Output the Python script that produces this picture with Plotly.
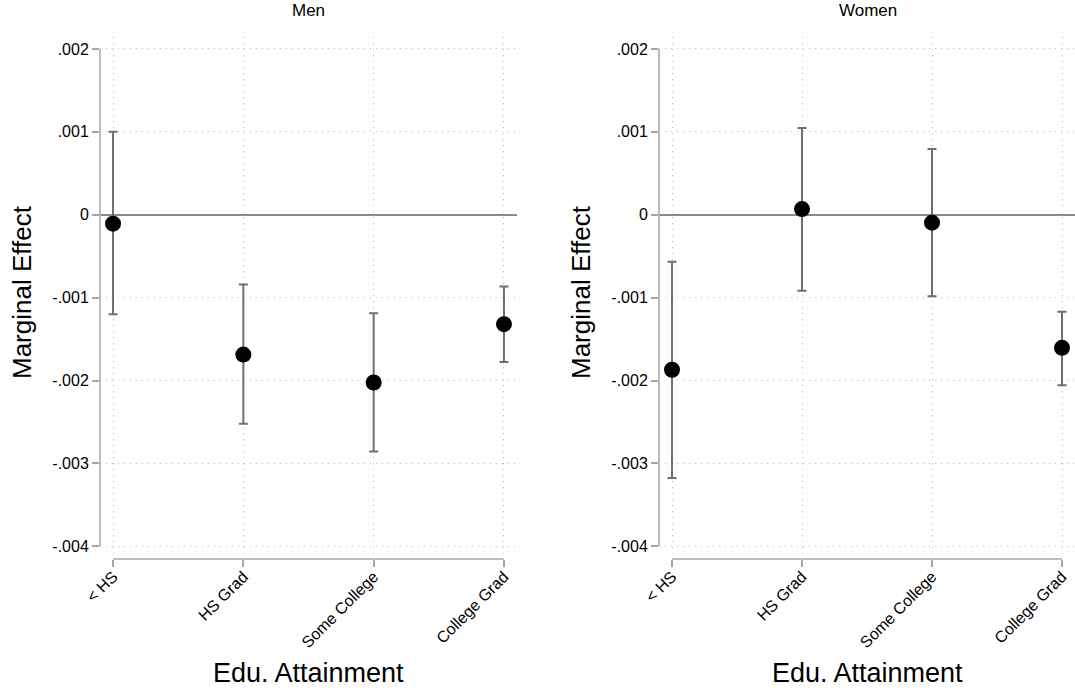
import plotly.graph_objects as go

categories = ["< HS", "HS Grad", "Some College", "College Grad"]

men_est = [-0.000108, -0.001687, -0.002024, -0.00132]
men_lo = [-0.0012, -0.002522, -0.002855, -0.001778]
men_hi = [0.001, -0.000843, -0.001188, -0.000867]

women_est = [-0.00187, 0.000068, -0.000096, -0.001606]
women_lo = [-0.003177, -0.000916, -0.000984, -0.002057]
women_hi = [-0.000566, 0.001045, 0.000792, -0.001169]

ytick_vals = [-0.004, -0.003, -0.002, -0.001, 0, 0.001, 0.002]
ytick_text = ["-.004", "-.003", "-.002", "-.001", "0", ".001", ".002"]

panel_titles = ["Men", "Women"]

FONT = "Liberation Sans, Arial, Helvetica, sans-serif"
W, H = 1075, 692
AXIS_GRAY = "#a6a6a6"
BAR_GRAY = "#6f6f6f"
GRID_GRAY = "#bdbdbd"
GRID_DASH = "1px,5px"

fig = go.Figure()

panels = [
    (men_est, men_lo, men_hi, "x", "y"),
    (women_est, women_lo, women_hi, "x2", "y2"),
]
for est, lo, hi, xa, ya in panels:
    fig.add_trace(go.Scatter(
        x=categories, y=est, mode="markers",
        xaxis=xa, yaxis=ya,
        marker=dict(color="black", size=16),
        error_y=dict(
            type="data", symmetric=False,
            array=[h - e for h, e in zip(hi, est)],
            arrayminus=[e - l for e, l in zip(est, lo)],
            color=BAR_GRAY, thickness=2, width=4.5,
        ),
        showlegend=False,
        cliponaxis=False,
    ))

left_dom = (100 / W, 517 / W)
right_dom = (659 / W, 1076 / W)
top_px, bot_px = 37, 559
y_dom = (1 - bot_px / H, 1 - top_px / H)
yrange = [-0.004153, 0.002144]
xrange = [-0.1, 3.1]

def xaxis_cfg(dom, anchor):
    return dict(
        domain=[dom[0], min(dom[1], 1.0)], anchor=anchor, type="category",
        categoryorder="array", categoryarray=categories,
        range=xrange, showline=False, zeroline=False, automargin=False,
        showgrid=True, gridcolor=GRID_GRAY, griddash=GRID_DASH, gridwidth=1,
        ticks="outside", ticklen=7, tickcolor=AXIS_GRAY, tickwidth=1.5,
        tickangle=-45, tickfont=dict(family=FONT, size=16, color="black"),
        ticklabelstandoff=-6,
        fixedrange=True,
    )

def yaxis_cfg(anchor):
    return dict(
        domain=list(y_dom), anchor=anchor, range=yrange,
        tickvals=ytick_vals, ticktext=ytick_text, automargin=False,
        showline=False, zeroline=True, zerolinecolor="#8a8a8a", zerolinewidth=1.5,
        showgrid=True, gridcolor=GRID_GRAY, griddash=GRID_DASH, gridwidth=1,
        ticks="outside", ticklen=7, tickcolor=AXIS_GRAY, tickwidth=1.5,
        tickfont=dict(family=FONT, size=16, color="black"),
        fixedrange=True,
    )

fig.update_layout(
    width=W, height=H,
    margin=dict(l=0, r=0, t=0, b=0, autoexpand=False),
    paper_bgcolor="white", plot_bgcolor="white",
    font=dict(family=FONT, color="black"),
    xaxis=xaxis_cfg(left_dom, "y"),
    xaxis2=xaxis_cfg(right_dom, "y2"),
    yaxis=yaxis_cfg("x"),
    yaxis2=yaxis_cfg("x2"),
)

shapes = []
annotations = []
for i, (xa, ya) in enumerate([("x", "y"), ("x2", "y2")]):
    shapes.append(dict(type="line", xref=f"{xa} domain", yref=ya,
                       x0=0, x1=0, y0=ytick_vals[0], y1=ytick_vals[-1],
                       line=dict(color=AXIS_GRAY, width=1.5), layer="above"))
    shapes.append(dict(type="line", xref=xa, yref=f"{ya} domain",
                       x0=0, x1=len(categories) - 1, y0=0, y1=0,
                       line=dict(color=AXIS_GRAY, width=1.5), layer="above"))
    dom = left_dom if i == 0 else right_dom
    cx = (dom[0] + dom[1]) / 2
    annotations.append(dict(text=panel_titles[i], xref="paper", yref="paper",
                            x=cx, y=1 - 11 / H, xanchor="center", yanchor="middle",
                            showarrow=False, font=dict(family=FONT, size=17)))
    annotations.append(dict(text="Edu. Attainment", xref="paper", yref="paper",
                            x=cx, y=1 - 673 / H, xanchor="center", yanchor="middle",
                            showarrow=False, font=dict(family=FONT, size=27)))
    annotations.append(dict(text="Marginal Effect", xref="paper", yref="paper",
                            x=(dom[0] * W - 78) / W, y=1 - 292 / H,
                            xanchor="center", yanchor="middle", textangle=-90,
                            showarrow=False, font=dict(family=FONT, size=26)))

fig.update_layout(shapes=shapes, annotations=annotations)

fig.write_html("out.html")
